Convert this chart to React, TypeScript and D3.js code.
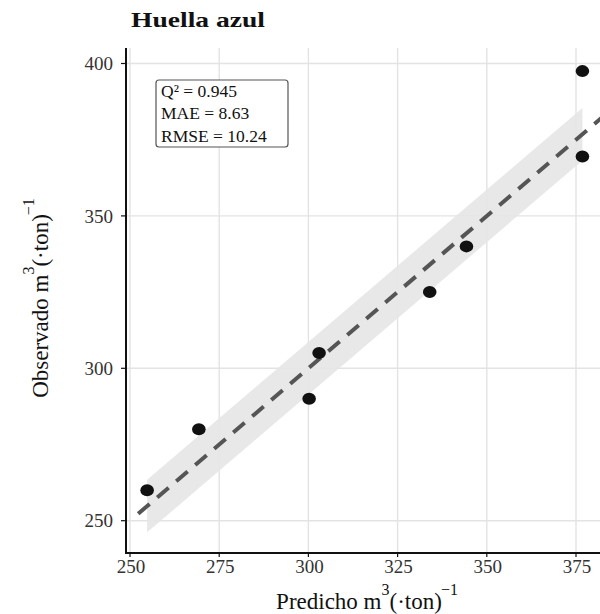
import * as d3 from "d3";

// ── Data ──────────────────────────────────────────────────
const predicho = [254.8, 269.3, 300.2, 303.0, 334.0, 344.3, 376.8, 376.8];
const observado = [260.0, 280.0, 290.0, 305.0, 325.0, 340.0, 397.5, 369.5];
const xTicks = [250, 275, 300, 325, 350, 375];
const yTicks = [250, 300, 350, 400];
const statLines = ["Q² = 0.945", "MAE = 8.63", "RMSE = 10.24"];
const MAE = 8.63;
const refLineRange = [252.3, 386];

// ── Layout ────────────────────────────────────────────────
const W = 600;
const H = 614;
const panel = { left: 126, right: 612, top: 48, bottom: 553 };
const FONT = "'Liberation Serif', 'Times New Roman', serif";

const x = d3.scaleLinear().domain([250, 375]).range([130, 576]);
const y = d3.scaleLinear().domain([250, 400]).range([520.7, 63.5]);

const line = d3.line<number>().x(d => x(d)).y(d => y(d));

// band = y = x ± MAE across the predicted range
const xMin = d3.min(predicho) as number;
const xMax = d3.max(predicho) as number;
const band = d3.area<number>()
  .x(d => x(d))
  .y0(d => y(d - MAE))
  .y1(d => y(d + MAE));

export default function App() {
  return (
    <svg width={W} height={H} viewBox={`0 0 ${W} ${H}`}
      style={{ position: "absolute", left: 0, top: 0, background: "#fff" }}
      fontFamily={FONT}>
      <defs>
        <clipPath id="panel">
          <rect x={panel.left} y={panel.top}
            width={panel.right - panel.left} height={panel.bottom - panel.top} />
        </clipPath>
      </defs>

      {/* title */}
      <text x={131} y={27} fontSize={21} fontWeight={700} fill="#111"
        textLength={134} lengthAdjust="spacingAndGlyphs">
        Huella azul
      </text>

      <g clipPath="url(#panel)">
        {/* grid */}
        {xTicks.map(t => (
          <line key={"gx" + t} x1={x(t)} x2={x(t)} y1={panel.top} y2={panel.bottom}
            stroke="#e3e3e3" strokeWidth={1.4} />
        ))}
        {yTicks.map(t => (
          <line key={"gy" + t} x1={panel.left} x2={panel.right} y1={y(t)} y2={y(t)}
            stroke="#e3e3e3" strokeWidth={1.4} />
        ))}

        {/* band */}
        <path d={band([xMin, xMax]) ?? ""} fill="#e6e6e6" fillOpacity={0.9} />

        {/* 1:1 line */}
        <path d={line(refLineRange) ?? ""} fill="none" stroke="#555"
          strokeWidth={4} strokeDasharray="15 10" />

        {/* points */}
        {predicho.map((p, i) => (
          <ellipse key={i} cx={x(p)} cy={y(observado[i])} rx={6.8} ry={6} fill="#111" />
        ))}
      </g>

      {/* axes */}
      <line x1={panel.left} x2={panel.left} y1={panel.top} y2={panel.bottom + 1}
        stroke="#111" strokeWidth={2} />
      <line x1={panel.left - 1} x2={W} y1={panel.bottom} y2={panel.bottom}
        stroke="#111" strokeWidth={2} />
      {yTicks.map(t => (
        <g key={"ty" + t}>
          <line x1={panel.left - 5} x2={panel.left} y1={y(t)} y2={y(t)}
            stroke="#111" strokeWidth={1.2} />
          <text x={113} y={y(t)} dy="0.35em" textAnchor="end" fontSize={19} fill="#333">
            {t}
          </text>
        </g>
      ))}
      {xTicks.map(t => (
        <g key={"tx" + t}>
          <line x1={x(t)} x2={x(t)} y1={panel.bottom} y2={panel.bottom + 4}
            stroke="#111" strokeWidth={1.2} />
          <text x={x(t) + 1} y={573} textAnchor="middle" fontSize={19} fill="#333">
            {t}
          </text>
        </g>
      ))}

      {/* stats box */}
      <rect x={156} y={80} width={132} height={67} rx={3}
        fill="#fff" stroke="#555" strokeWidth={1.2} />
      {statLines.map((s, i) => (
        <text key={s} x={161} y={96.5 + i * 22.5} fontSize={17.5} fill="#111">{s}</text>
      ))}

      {/* x axis title */}
      <text x={367} y={609} textAnchor="middle" fontSize={23} fill="#111">
        Predicho m
        <tspan dx={0} dy={-14} fontSize={16}>3</tspan>
        <tspan dx={0} dy={14}>(·ton)</tspan>
        <tspan dx={-1} dy={-14} fontSize={16}>−1</tspan>
      </text>

      {/* y axis title */}
      <text transform="translate(48, 298) rotate(-90)" textAnchor="middle"
        fontSize={23} fill="#111">
        Observado m
        <tspan dx={0} dy={-14} fontSize={16}>3</tspan>
        <tspan dx={0} dy={14}>(·ton)</tspan>
        <tspan dx={-1} dy={-14} fontSize={16}>−1</tspan>
      </text>
    </svg>
  );
}
